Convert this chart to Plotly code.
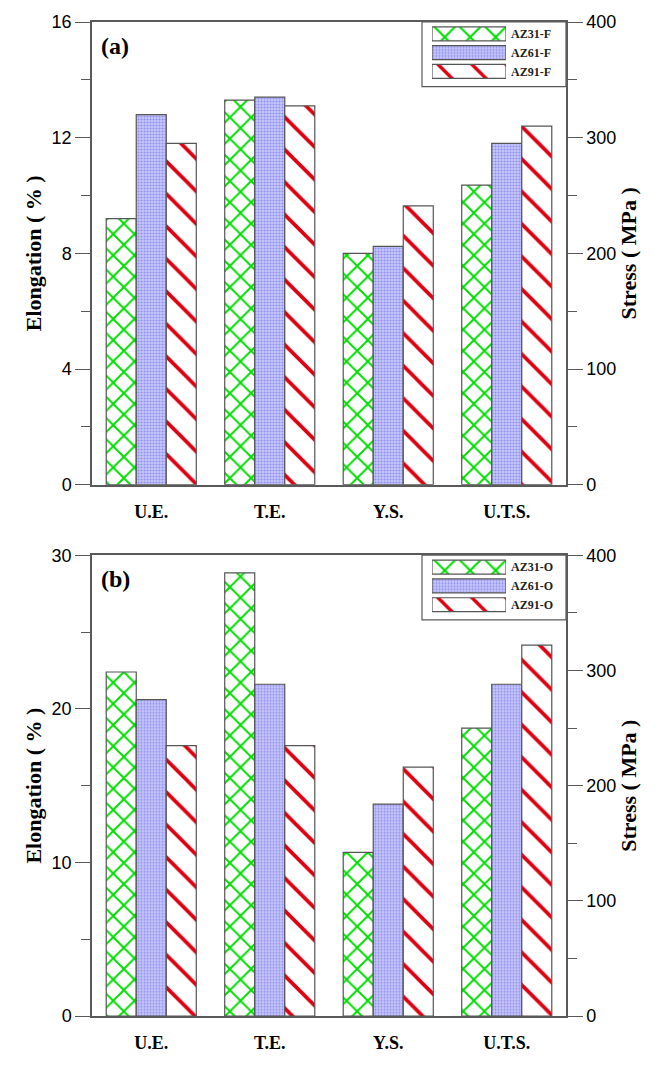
import plotly.graph_objects as go

# ---------------- data ----------------
categories = ['U.E.', 'T.E.', 'Y.S.', 'U.T.S.']
elong_cats = ['U.E.', 'T.E.']      # left axis, %
stress_cats = ['Y.S.', 'U.T.S.']   # right axis, MPa

names_a = ['AZ31-F', 'AZ61-F', 'AZ91-F']
elong_a = [[9.2, 13.3], [12.8, 13.4], [11.8, 13.1]]
stress_a = [[200, 259], [206, 295], [241, 310]]

names_b = ['AZ31-O', 'AZ61-O', 'AZ91-O']
elong_b = [[22.4, 28.85], [20.6, 21.6], [17.6, 17.6]]
stress_b = [[142, 250], [184, 288], [216, 322]]

legend_fill = 1

# ---------------- styles ----------------
SERIF = 'Liberation Serif'
SANS = 'Liberation Sans'
AX = '#5a5a5a'
OUT = '#555555'

pat_shape = ['x', '.', '\\']
pat_fg = ['#00dd00', '#8e8eee', '#dd0010']
pat_bg = ['white', '#c8c8fc', 'white']
pat_size = [15, 3, 23]
pat_sol = [0.24, 0.4, 0.16]
leg_size = [18, 3, 24]
leg_sol = [0.22, 0.4, 0.14]
bar_col = ['white', '#c8c8fc', 'white']

W, H = 655, 1065
L, R, T, B = 92, 89, 20, 31
PW, PH = W - L - R, H - T - B


def py(pix):
    """pixel row -> paper y"""
    return 1 - (pix - T) / PH


def px(pix):
    return (pix - L) / PW


fig = go.Figure()

panels = [
    dict(names=names_a, elong=elong_a, stress=stress_a, x='x', y='y', y2='y2',
         lx='x3', ly='y5', top=20, label='(a)'),
    dict(names=names_b, elong=elong_b, stress=stress_b, x='x2', y='y3', y2='y4',
         lx='x4', ly='y6', top=564, label='(b)'),
]

for p in panels:
    for i, nm in enumerate(p['names']):
        mk = dict(color=bar_col[i], line=dict(color=OUT, width=1.2),
                  pattern=dict(shape=pat_shape[i], fgcolor=pat_fg[i], bgcolor=pat_bg[i],
                               fgopacity=1, size=pat_size[i], solidity=pat_sol[i]))
        fig.add_trace(go.Bar(x=elong_cats, y=p['elong'][i], name=nm, marker=mk,
                             xaxis=p['x'], yaxis=p['y'], showlegend=False))
        fig.add_trace(go.Bar(x=stress_cats, y=p['stress'][i], name=nm, marker=mk,
                             xaxis=p['x'], yaxis=p['y2'], showlegend=False))
        # custom legend swatch
        lmk = dict(color=bar_col[i], line=dict(color=OUT, width=1.2),
                   pattern=dict(shape=pat_shape[i], fgcolor=pat_fg[i], bgcolor=pat_bg[i],
                                fgopacity=1, size=leg_size[i], solidity=leg_sol[i]))
        fig.add_trace(go.Bar(x=[legend_fill], y=[nm], orientation='h', marker=lmk,
                             width=0.74, offset=-0.37,
                             xaxis=p['lx'], yaxis=p['ly'], showlegend=False, hoverinfo='skip'))

xcommon = dict(type='category', categoryorder='array', categoryarray=categories,
               range=[-0.5, 3.5], showline=True, mirror=True, linecolor=AX, linewidth=1.5,
               ticks='', showgrid=False, zeroline=False,
               tickfont=dict(family=SERIF, size=18, color='black', weight='bold'),
               ticklabelstandoff=10)

ycommon = dict(showline=True, linecolor=AX, linewidth=1.5, ticks='outside', ticklen=15,
               tickwidth=1.3, tickcolor=AX, showgrid=False, zeroline=False,
               tickfont=dict(family=SANS, size=18, color='black'),
               title_font=dict(family=SERIF, size=22, color='black', weight='bold'))


def yax(**kw):
    d = dict(ycommon)
    d.update(kw)
    return d


def minor_l(dt):
    return dict(dtick=dt, ticks='outside', ticklen=9, tickcolor=AX, tickwidth=1.3)


top_a, bot_a = 20, 492
top_b, bot_b = 564, 1034

fig.update_layout(
    width=W, height=H, margin=dict(l=L, r=R, t=T, b=B),
    plot_bgcolor='white', paper_bgcolor='white',
    barmode='group', bargap=0.24, bargroupgap=0,
    xaxis=dict(xcommon, domain=[0, 1], anchor='y'),
    xaxis2=dict(xcommon, domain=[0, 1], anchor='y3'),
    yaxis=yax(domain=[py(bot_a), py(top_a)], anchor='x', range=[0, 16], dtick=4,
              minor=minor_l(2), title=dict(text='Elongation ( % )', standoff=4)),
    yaxis2=yax(domain=[py(bot_a), py(top_a)], anchor='x', overlaying='y', side='right',
               range=[0, 400], dtick=100, minor=minor_l(50),
               title=dict(text='Stress ( MPa )', standoff=2)),
    yaxis3=yax(domain=[py(bot_b), py(top_b)], anchor='x2', range=[0, 30], dtick=10,
               minor=minor_l(5), title=dict(text='Elongation ( % )', standoff=4)),
    yaxis4=yax(domain=[py(bot_b), py(top_b)], anchor='x2', overlaying='y3', side='right',
               range=[0, 400], dtick=100, minor=minor_l(50),
               title=dict(text='Stress ( MPa )', standoff=2)),
)

# legend axes
for p, xa, ya in [(panels[0], 'xaxis3', 'yaxis5'), (panels[1], 'xaxis4', 'yaxis6')]:
    t0 = p['top']
    fig.layout[xa] = dict(domain=[px(432), px(506)], anchor=p['ly'], range=[0, 1],
                          visible=False, fixedrange=True)
    fig.layout[ya] = dict(domain=[py(t0 + 60), py(t0 + 2.5)], anchor=p['lx'], type='category',
                          categoryorder='array', categoryarray=p['names'],
                          autorange='reversed', side='right', showline=False, showgrid=False,
                          zeroline=False, ticks='', ticklabelstandoff=4,
                          tickfont=dict(family=SERIF, size=12, color='#222', weight='bold'))
    fig.add_shape(type='rect', xref='paper', yref='paper', x0=px(422), x1=1,
                  y0=py(t0 + 66), y1=py(t0), line=dict(color=AX, width=1.2),
                  fillcolor='rgba(0,0,0,0)', layer='below')
    fig.add_annotation(text=p['label'], xref='paper', yref='paper', x=px(99), y=py(t0 + 24),
                       xanchor='left', yanchor='middle', showarrow=False,
                       font=dict(family=SERIF, size=24, color='black', weight='bold'))

fig.write_html('out.html')
